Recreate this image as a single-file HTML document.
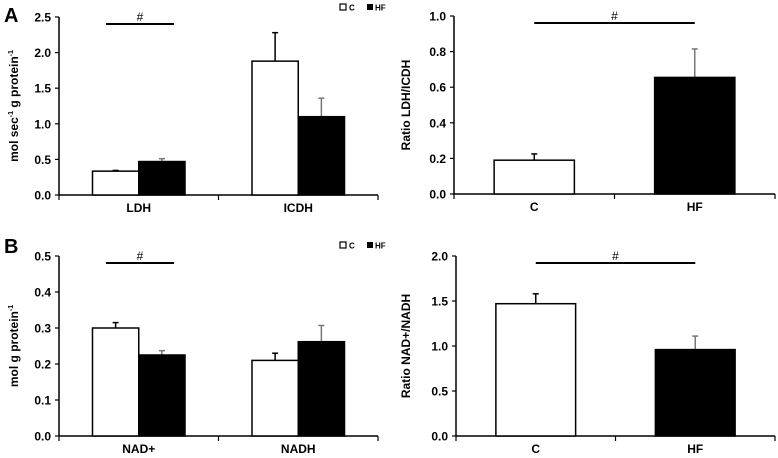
<!DOCTYPE html>
<html><head><meta charset="utf-8"><style>
body{margin:0;background:#fff;width:778px;height:458px;overflow:hidden}
svg{display:block;font-family:"Liberation Sans",Arial,sans-serif}
</style></head><body>
<svg id="fig" width="778" height="458" viewBox="0 0 778 458">
<text x="4" y="22" font-size="20" font-weight="bold">A</text>
<text x="4" y="253" font-size="20" font-weight="bold">B</text>
</svg>
<script>
// Panel A left
const aLeftCats = ["LDH", "ICDH"];
const aLeftC = [0.335, 1.88];
const aLeftCErr = [0.345, 2.28];
const aLeftHF = [0.47, 1.10];
const aLeftHFErr = [0.51, 1.36];
const aLeftTicks = ["0.0","0.5","1.0","1.5","2.0","2.5"];
// Panel A right
const aRightCats = ["C", "HF"];
const aRightVals = [0.19, 0.655];
const aRightErr = [0.225, 0.815];
const aRightTicks = ["0.0","0.2","0.4","0.6","0.8","1.0"];
// Panel B left
const bLeftCats = ["NAD+", "NADH"];
const bLeftC = [0.30, 0.21];
const bLeftCErr = [0.315, 0.23];
const bLeftHF = [0.225, 0.262];
const bLeftHFErr = [0.237, 0.307];
const bLeftTicks = ["0.0","0.1","0.2","0.3","0.4","0.5"];
// Panel B right
const bRightCats = ["C", "HF"];
const bRightVals = [1.47, 0.96];
const bRightErr = [1.58, 1.11];
const bRightTicks = ["0.0","0.5","1.0","1.5","2.0"];

const svg = document.getElementById('fig');
const NS = "http://www.w3.org/2000/svg";
function mk(tag, attrs, parent){const e=document.createElementNS(NS,tag);for(const k in attrs)e.setAttribute(k,attrs[k]);(parent||svg).appendChild(e);return e;}

function axes(p){
  const g = mk('g',{});
  
  
  const max = parseFloat(p.ticks[p.ticks.length-1]);
  const y = v => p.y0 - (v/max)*(p.y0-p.y1);
  const band = (p.x1-p.x0)/p.cats.length;
  const cx = i => p.x0 + band*(i+0.5);
  mk('line',{x1:p.x0,y1:p.y1,x2:p.x0,y2:p.y0,stroke:'#000','stroke-width':1.5},g);
  mk('line',{x1:p.x0,y1:p.y0,x2:p.x1,y2:p.y0,stroke:'#000','stroke-width':1.5},g);
  p.ticks.forEach(t=>{
    const yy=y(parseFloat(t));
    mk('line',{x1:p.x0-4,y1:yy,x2:p.x0,y2:yy,stroke:'#000','stroke-width':1.2},g);
    const tx=mk('text',{x:p.x0-8,y:yy+4.5,'font-size':12,'font-weight':'bold','text-anchor':'end'},g);
    tx.textContent=t;
    
    
  });
  for(let i=0;i<=p.cats.length;i++){
    const xx=p.x0+band*i;
    mk('line',{x1:xx,y1:p.y0,x2:xx,y2:p.y0+5,stroke:'#000','stroke-width':1.2},g);
  }
  p.cats.forEach((c,i)=>{
    const tx=mk('text',{x:cx(i),y:p.y0+17,'font-size':12,'font-weight':'bold','text-anchor':'middle'},g);
    tx.textContent=c;
    
    
  });
  const yt=mk('text',{x:0,y:0,'font-size':12,'font-weight':'bold','text-anchor':'middle',transform:`translate(${p.titleX},${(p.y0+p.y1)/2}) rotate(-90)`},g);
  yt.innerHTML=p.title;
  
  
  return {g,y,band,cx};
}
function bar(g,x,w,v,err,y,fill,name){
  mk('line',{x1:x+w/2,y1:y(v),x2:x+w/2,y2:y(err),stroke:fill==='#000'?'#777':'#000','stroke-width':1.5},g);
  mk('line',{x1:x+w/2-3,y1:y(err),x2:x+w/2+3,y2:y(err),stroke:fill==='#000'?'#777':'#000','stroke-width':1.5},g);
  const r=mk('rect',{x:x,y:y(v),width:w,height:y(0)-y(v),fill:fill,stroke:'#000','stroke-width':1.5},g);
  
  
}
function sig(g,xa,xb,yy){
  const l=mk('line',{x1:xa,y1:yy,x2:xb,y2:yy,stroke:'#000','stroke-width':2},g);
  
  
  const t=mk('text',{x:(xa+xb)/2,y:yy-3,'font-size':12,'text-anchor':'middle'},g);
  t.textContent='#';
  
  
}
function grouped(p,cv,ce,hv,he,legendY){
  const a=axes(p);
  const w=a.band*0.29;
  p.cats.forEach((c,i)=>{
    bar(a.g,a.cx(i)-w,w,cv[i],ce[i],a.y,'#fff','bar-c-'+c.toLowerCase());
    bar(a.g,a.cx(i),w,hv[i],he[i],a.y,'#000','bar-hf-'+c.toLowerCase());
  });
  sig(a.g,p.x0+47,p.x0+115,p.y1+7);
  const lg=mk('g',{},a.g);
  
  
  mk('rect',{x:340,y:legendY,width:6,height:6,fill:'#fff',stroke:'#000','stroke-width':1.2},lg);
  const t1=mk('text',{x:349,y:legendY+6.5,'font-size':8,'font-weight':'bold'},lg);t1.textContent='C';
  mk('rect',{x:367,y:legendY,width:6,height:6,fill:'#000'},lg);
  const t2=mk('text',{x:375,y:legendY+6.5,'font-size':8,'font-weight':'bold'},lg);t2.textContent='HF';
}
function single(p,vals,errs){
  const a=axes(p);
  const w=a.band*0.5;
  const fills=['#fff','#000'];
  p.cats.forEach((c,i)=>bar(a.g,a.cx(i)-w/2,w,vals[i],errs[i],a.y,fills[i],'bar-'+c.toLowerCase()));
  sig(a.g,a.cx(0),a.cx(1),p.y1+7);
}
grouped({name:'chart-a-enzyme-activity',x0:59,x1:378,y0:195,y1:17,cats:aLeftCats,ticks:aLeftTicks,titleX:18,
  title:'mol sec<tspan font-size="7" dy="-5">-1</tspan><tspan dy="5"> g protein</tspan><tspan font-size="7" dy="-5">-1</tspan>'},
  aLeftC,aLeftCErr,aLeftHF,aLeftHFErr,4);
single({name:'chart-a-ratio',x0:454,x1:775,y0:194,y1:16,cats:aRightCats,ticks:aRightTicks,titleX:410,title:'Ratio LDH/ICDH'},aRightVals,aRightErr);
grouped({name:'chart-b-nad',x0:59,x1:378,y0:436,y1:256,cats:bLeftCats,ticks:bLeftTicks,titleX:18,
  title:'mol g protein<tspan font-size="7" dy="-5">-1</tspan>'},
  bLeftC,bLeftCErr,bLeftHF,bLeftHFErr,242);
single({name:'chart-b-ratio',x0:456,x1:775,y0:436,y1:256,cats:bRightCats,ticks:bRightTicks,titleX:410,title:'Ratio NAD+/NADH'},bRightVals,bRightErr);
</script>
</body></html>
